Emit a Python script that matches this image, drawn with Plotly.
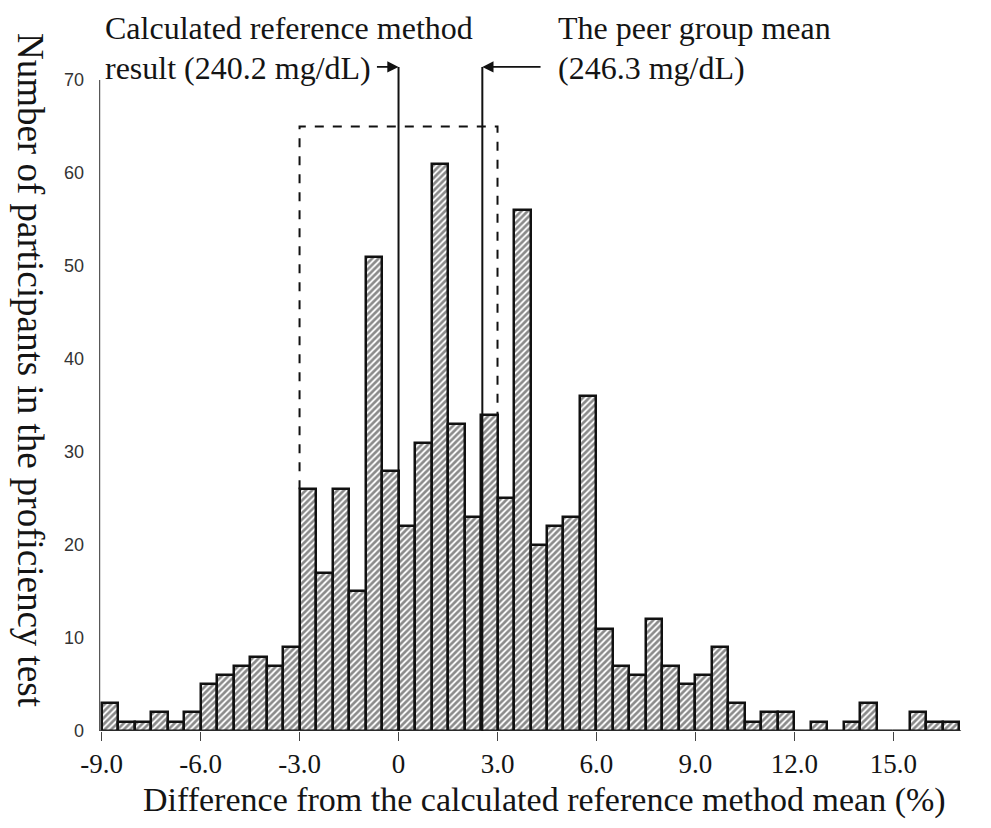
import plotly.graph_objects as go

# ---- data ----
bin_width = 0.5
bin_left = [-9.0 + 0.5 * i for i in range(52)]
counts = [3, 1, 1, 2, 1, 2, 5, 6, 7, 8, 7, 9,
          26, 17, 26, 15, 51, 28, 22, 31, 61, 33, 23, 34,
          25, 56, 20, 22, 23, 36, 11, 7, 6, 12, 7, 5,
          6, 9, 3, 1, 2, 2, 0, 1, 0, 1, 3, 0,
          0, 2, 1, 1]
x_tick_vals = [-9, -6, -3, 0, 3, 6, 9, 12, 15]
x_tick_text = ["-9.0", "-6.0", "-3.0", "0", "3.0", "6.0", "9.0", "12.0", "15.0"]
y_tick_vals = [0, 10, 20, 30, 40, 50, 60, 70]
ref_result = 0.0          # calculated reference method result (240.2 mg/dL)
peer_mean = 2.54          # peer group mean (246.3 mg/dL)
box_left, box_right, box_top = -3.0, 3.0, 65
box_left_bottom, box_right_bottom = 26, 34

centers = [b + bin_width / 2 for b in bin_left]

SERIF = "Liberation Serif"
INK = "#141414"
TXT = 32

fig = go.Figure()
fig.add_trace(go.Bar(
    x=centers, y=counts, width=bin_width,
    marker=dict(color="white",
                line=dict(color="#111111", width=2.5),
                pattern=dict(shape="/", fgcolor="#151515", bgcolor="white",
                             size=4.5, solidity=0.6)),
    showlegend=False, hoverinfo="skip",
))

shapes = [
    # y axis line
    dict(type="line", xref="x", yref="y", x0=-9.06, x1=-9.06, y0=0, y1=70,
         line=dict(color="#555555", width=1.2)),
    # x axis line
    dict(type="line", xref="x", yref="y", x0=-9.06, x1=17.05, y0=0, y1=0,
         line=dict(color="#333333", width=1.5)),
    # vertical marker lines
    dict(type="line", xref="x", yref="y", x0=ref_result, x1=ref_result, y0=0, y1=71.4,
         line=dict(color="#111111", width=2)),
    dict(type="line", xref="x", yref="y", x0=peer_mean, x1=peer_mean, y0=0, y1=71.4,
         line=dict(color="#111111", width=2)),
    # dashed box
    dict(type="path", xref="x", yref="y",
         path=f"M {box_left},{box_left_bottom} L {box_left},{box_top} L {box_right},{box_top} L {box_right},{box_right_bottom}",
         line=dict(color="#111111", width=2, dash="dash")),
]

annotations = [
    dict(text="Calculated reference method", xref="paper", yref="paper", x=0.0092, y=1.0353,
         xanchor="left", yanchor="middle", showarrow=False,
         font=dict(family=SERIF, size=TXT, color=INK)),
    dict(text="result (240.2 mg/dL)", xref="paper", yref="paper", x=0.0092, y=0.9764,
         xanchor="left", yanchor="middle", showarrow=False,
         font=dict(family=SERIF, size=TXT, color=INK)),
    dict(text="The peer group mean", xref="x", yref="paper", x=4.78, y=1.0353,
         xanchor="left", yanchor="middle", showarrow=False,
         font=dict(family=SERIF, size=TXT, color=INK)),
    dict(text="(246.3 mg/dL)", xref="x", yref="paper", x=4.78, y=0.9764,
         xanchor="left", yanchor="middle", showarrow=False,
         font=dict(family=SERIF, size=TXT, color=INK)),
    # arrows
    dict(text="", xref="x", yref="y", axref="x", ayref="y",
         x=ref_result, y=71.4, ax=-0.7, ay=71.4, showarrow=True,
         arrowhead=2, arrowsize=1.4, arrowwidth=1.6, arrowcolor="#111111", standoff=0),
    dict(text="", xref="x", yref="y", axref="x", ayref="y",
         x=peer_mean, y=71.4, ax=4.35, ay=71.4, showarrow=True,
         arrowhead=2, arrowsize=1.4, arrowwidth=1.6, arrowcolor="#111111", standoff=0),
    # axis titles
    dict(text="Difference from the calculated reference method mean (%)",
         xref="paper", yref="paper", x=0.5155, y=-0.1016, xanchor="center", yanchor="middle",
         showarrow=False, font=dict(family=SERIF, size=34, color=INK)),
    dict(text="Number of participants in the proficiency test",
         xref="paper", yref="paper", x=-0.0746, y=0.5317, xanchor="center", yanchor="middle",
         textangle=90, showarrow=False, font=dict(family=SERIF, size=37, color=INK)),
]

fig.update_layout(
    width=975, height=812,
    margin=dict(l=87, r=17, t=44, b=89),
    paper_bgcolor="white", plot_bgcolor="white",
    bargap=0,
    shapes=shapes, annotations=annotations,
    xaxis=dict(range=[-9.2, 17.2], tickvals=x_tick_vals, ticktext=x_tick_text,
               ticks="outside", ticklen=9, tickwidth=1.2, tickcolor="#444444",
               showline=False, showgrid=False, zeroline=False,
               tickfont=dict(family=SERIF, size=27, color=INK)),
    yaxis=dict(range=[0, 73], tickvals=y_tick_vals, ticks="",
               showline=False, showgrid=False, zeroline=False,
               ticklabelstandoff=10,
               tickfont=dict(family="Liberation Sans", size=18, color="#333333")),
)

fig.write_html("out.html")
